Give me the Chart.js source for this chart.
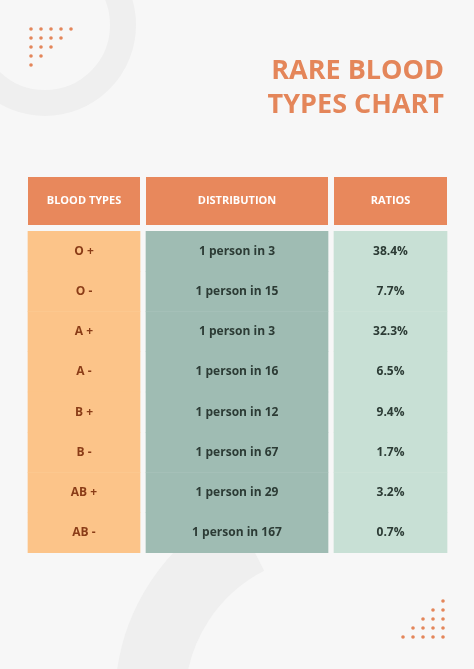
<!DOCTYPE html>
<html><head><meta charset="utf-8">
<script src="https://cdn.jsdelivr.net/npm/chart.js@4"></script>
<style>
html,body{margin:0;padding:0;background:#f7f7f7;overflow:hidden}
#bg{position:absolute;left:0;top:0}
#wrap{position:absolute;left:0;top:0;width:474px;height:669px}
</style></head><body>
<canvas id="bg" width="474" height="669"></canvas>
<div id="wrap"><canvas id="c"></canvas></div>
<script>
const bloodTypes = ['O +','O -','A +','A -','B +','B -','AB +','AB -'];
const distribution = ['1 person in 3','1 person in 15','1 person in 3','1 person in 16','1 person in 12','1 person in 67','1 person in 29','1 person in 167'];
const ratios = ['38.4%','7.7%','32.3%','6.5%','9.4%','1.7%','3.2%','0.7%'];
const headers = ['BLOOD TYPES','DISTRIBUTION','RATIOS'];
const columnSpans = [[28,140],[146,328],[334,447]];
const columnColors = ['#fcc489','#9fbcb3','#c8e0d5'];
const textColors = ['#8a3c17','#2c3b35','#2c3b35'];
const columnTexts = [bloodTypes, distribution, ratios];

// background decoration
const b = document.getElementById('bg').getContext('2d');
b.fillStyle='#f7f7f7';b.fillRect(0,0,474,669);
b.strokeStyle='#efefef';b.lineWidth=26;
b.beginPath();b.arc(45,25,78,0,Math.PI*2);b.stroke();
b.lineWidth=70;b.beginPath();b.arc(330,700,180,Math.PI*1.02,Math.PI*1.35);b.stroke();
b.fillStyle='#e4865a';
for(let r=0;r<5;r++)for(let k=0;k<5-r;k++){b.beginPath();b.arc(31+k*10,29+r*9,1.8,0,7);b.fill();}
for(let r=0;r<5;r++)for(let k=0;k<=r;k++){b.beginPath();b.arc(443-k*10,601+r*9,1.8,0,7);b.fill();}
b.font='bold 27px "Open Sans"';b.textAlign='right';b.textBaseline='middle';
b.fillText('RARE BLOOD',444,71);b.fillText('TYPES CHART',444,105);

const tablePlugin = {
  id:'tableText',
  afterDatasetsDraw(chart){
    const {ctx, chartArea, scales:{x,y}} = chart;
    ctx.save();
    ctx.textAlign='center';ctx.textBaseline='middle';
    columnSpans.forEach((s,i)=>{
      const x0=x.getPixelForValue(s[0]), x1=x.getPixelForValue(s[1]);
      ctx.fillStyle='#e8885c';
      ctx.fillRect(x0,chartArea.top-54,x1-x0,48);
      ctx.fillStyle='#ffffff';ctx.font='bold 11px "Open Sans"';
      ctx.fillText(headers[i],(x0+x1)/2,chartArea.top-30);
      ctx.fillStyle=textColors[i];ctx.font='bold 12px "Open Sans"';
      columnTexts[i].forEach((t,j)=>ctx.fillText(t,(x0+x1)/2,y.getPixelForValue(j)));
    });
    ctx.restore();
  }
};

new Chart(document.getElementById('c'),{
  type:'bar',
  data:{labels:bloodTypes,
    datasets:columnSpans.map((s,i)=>({
      data:bloodTypes.map(()=>s),
      backgroundColor:columnColors[i],
      borderWidth:0,barPercentage:1,categoryPercentage:1,grouped:false
    }))},
  options:{
    indexAxis:'y',responsive:true,maintainAspectRatio:false,animation:false,
    layout:{padding:{top:231,bottom:116,left:0,right:0}},
    plugins:{legend:{display:false},tooltip:{enabled:false}},
    scales:{
      x:{type:'linear',min:0,max:474,display:false},
      y:{display:false}
    }
  },
  plugins:[tablePlugin]
});
</script></body></html>
